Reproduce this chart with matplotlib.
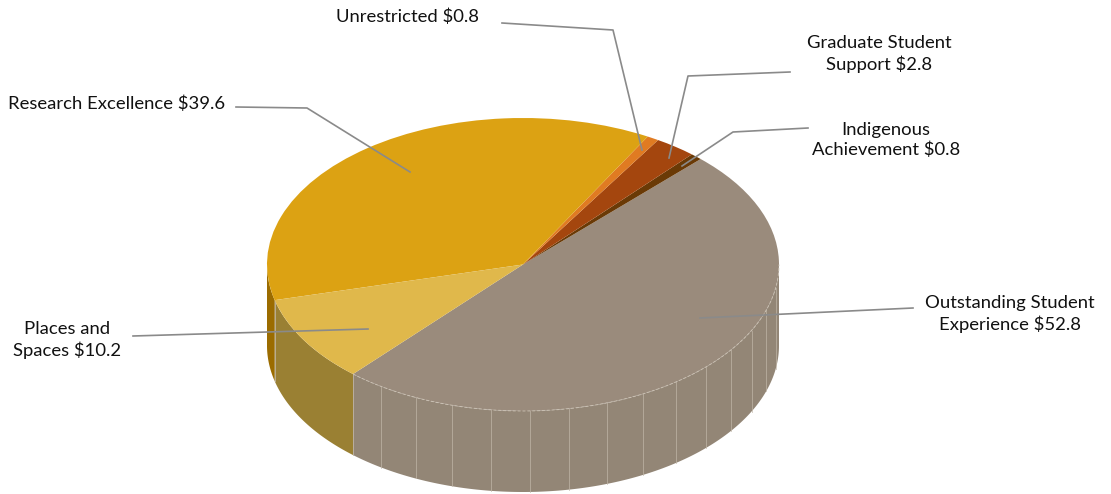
import numpy as np
import matplotlib
matplotlib.use("Agg")
import matplotlib.pyplot as plt
from matplotlib.patches import Polygon

# ---- data ----
categories = ["Outstanding Student\nExperience", "Indigenous\nAchievement",
              "Graduate Student\nSupport", "Unrestricted",
              "Research Excellence", "Places and\nSpaces"]
values = [52.8, 0.8, 2.8, 0.8, 39.6, 10.2]

# ---- style ----
top_colors = ["#9a8b7c", "#6a3a06", "#a4460e", "#e07b22", "#dca213", "#e0b84b"]
side_colors = ["#938676", "#5a3005", "#8a3a0c", "#c06818", "#9b6c00", "#9a8033"]
label_pos = [(1010, 314), (886, 140), (879, 54), (408, 17), (117, 104), (67, 340)]
leaders = [[(913, 308), (700, 318)],
           [(808, 128), (733, 132), (682, 166)],
           [(790, 72), (688, 76), (669, 158)],
           [(502, 23), (613, 30), (642, 150)],
           [(236, 107), (307, 108), (410, 172)],
           [(133, 336), (368, 329)]]

W, H = 1111, 494
CX, CY, RX, RY = 523, 264.5, 256, 146.5
DEPTH = 81

plt.rcParams['font.family'] = ['Lato', 'DejaVu Sans']

fig = plt.figure(figsize=(W / 100, H / 100), dpi=100)
ax = fig.add_axes([0, 0, 1, 1])


def to_data(px, py):
    return ((px - CX) / RX, (CY - py) / RY)


wedges, _ = ax.pie(values, colors=top_colors, startangle=228.4, counterclock=True,
                   radius=1, center=(0, 0), wedgeprops=dict(linewidth=0))
for w in wedges:
    w.set_zorder(3)

ax.set_aspect('auto')
x0, y0 = to_data(0, H)
x1, y1 = to_data(W, 0)
ax.set_xlim(x0, x1)
ax.set_ylim(y0, y1)
ax.axis('off')

d = DEPTH / RY
facet_col = "#c2b8aa"
for w, sc in zip(wedges, side_colors):
    t1, t2 = w.theta1, w.theta2
    for k in (0, 1):
        lo = max(t1, 180 + 360 * k)
        hi = min(t2, 360 + 360 * k)
        if hi <= lo:
            continue
        t = np.radians(np.linspace(lo, hi, 200))
        xs = np.cos(t)
        ys = np.sin(t)
        pts = np.concatenate([np.column_stack([xs, ys]),
                              np.column_stack([xs[::-1], ys[::-1] - d])])
        ax.add_patch(Polygon(pts, closed=True, facecolor=sc, edgecolor='none', zorder=1))
        # facet lines on the wall
        if hi - lo > 60:
            for a in np.arange(lo + 8, hi - 4, 8.8):
                ar = np.radians(a)
                ax.plot([np.cos(ar)] * 2, [np.sin(ar), np.sin(ar) - d],
                        color=facet_col, lw=0.6, alpha=0.8, zorder=2)
            # dotted rim
            ax.plot(xs, ys, color="#cfc6b8", lw=0.7, ls=(0, (3, 2)), alpha=0.8, zorder=4)
        # boundary line at lower angle
        if lo > 180 + 360 * k + 0.01:
            ar = np.radians(lo)
            ax.plot([np.cos(ar)] * 2, [np.sin(ar), np.sin(ar) - d],
                    color=facet_col, lw=0.7, alpha=0.8, zorder=2)

# labels
for cat, v, (px, py), pts in zip(categories, values, label_pos, leaders):
    tx, ty = to_data(px, py)
    ax.text(tx, ty, f"{cat} ${v:.1f}", ha='center', va='center', fontsize=13.3,
            linespacing=1.28, color='#111111', zorder=6)
    dp = np.array([to_data(*p) for p in pts])
    ax.plot(dp[:, 0], dp[:, 1], color='#8a8a8a', lw=1.2, zorder=5)

fig.savefig("out.png", dpi=100)
